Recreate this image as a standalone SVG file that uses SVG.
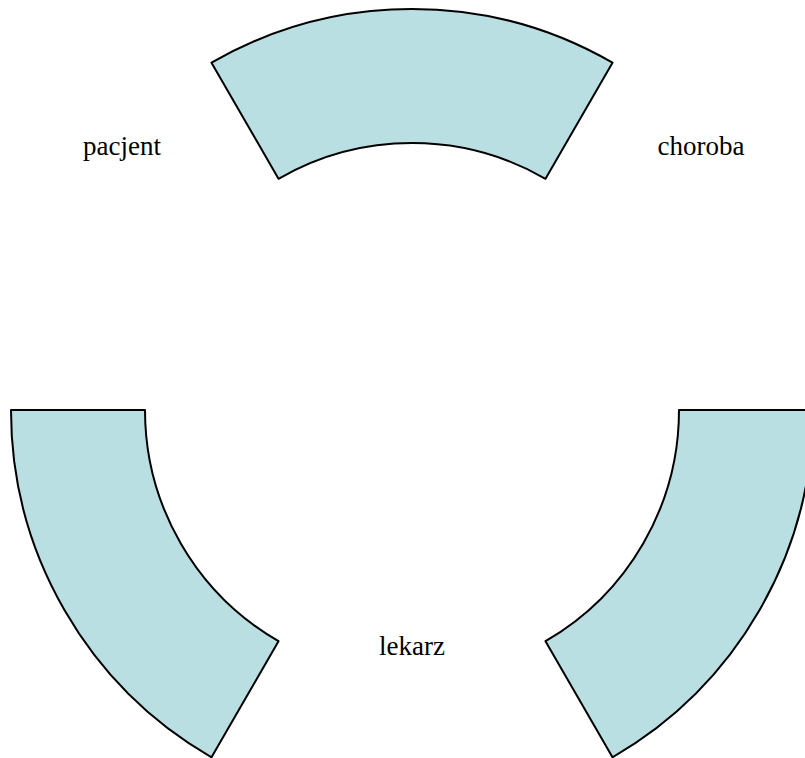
<svg xmlns="http://www.w3.org/2000/svg" width="805" height="758" viewBox="0 0 805 758">
<style>
.sec{fill:#BADFE2;stroke:#000;stroke-width:2;stroke-linejoin:round}
.lbl{font-family:"Liberation Serif","Times New Roman",serif;font-size:27px;fill:#000;text-anchor:middle}
</style>
<rect width="805" height="758" fill="#fff"/>
<g id="sector-top">
<path class="sec" d="M211.5,62.7 A401,401 0 0 1 612.5,62.7 L545.5,178.8 A267,267 0 0 0 278.5,178.8 Z"/>
</g>
<g id="sector-left">
<path class="sec" d="M11,410 A401,401 0 0 0 211.5,757.3 L278.5,641.2 A267,267 0 0 1 145,410 Z"/>
</g>
<g id="sector-right">
<path class="sec" d="M813,410 A401,401 0 0 1 612.5,757.3 L545.5,641.2 A267,267 0 0 0 679,410 Z"/>
</g>
<g id="labels">
<text class="lbl" x="122" y="155">pacjent</text>
<text class="lbl" x="701" y="155">choroba</text>
<text class="lbl" x="412" y="655">lekarz</text>
</g>
</svg>
